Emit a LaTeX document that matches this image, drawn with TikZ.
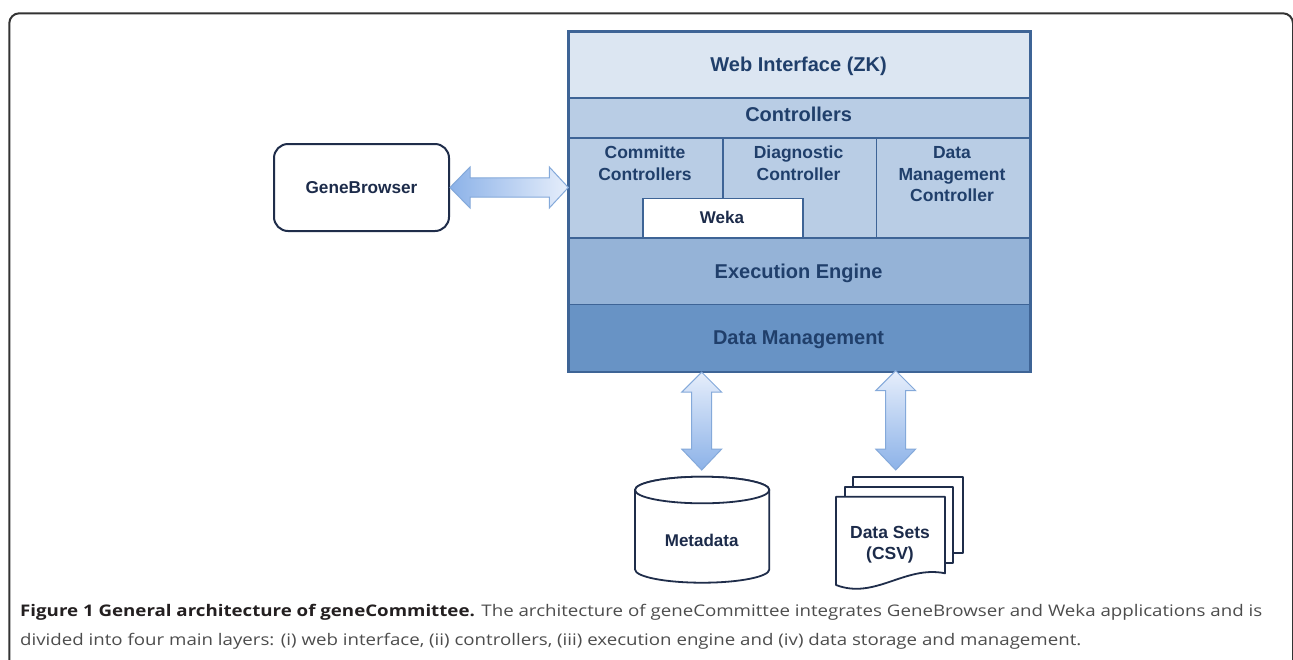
\documentclass[tikz,border=0pt]{standalone}
\usepackage{fontspec}
\usepackage{graphicx}
\setmainfont{Liberation Sans}
\newfontfamily\capfont{Open Sans}
\usetikzlibrary{calc}
\definecolor{webfill}{HTML}{DCE6F2}
\definecolor{ctrlfill}{HTML}{B9CDE5}
\definecolor{execfill}{HTML}{95B3D7}
\definecolor{dmfill}{HTML}{6893C5}
\definecolor{bordercol}{HTML}{3E6496}
\definecolor{navytext}{HTML}{203F6B}
\definecolor{darktext}{HTML}{1C2B4A}
\definecolor{docline}{HTML}{1F2D4A}
\definecolor{arrdark}{HTML}{8CB2E8}
\definecolor{arrlight}{HTML}{E6EEFB}
\definecolor{arrline}{HTML}{84A9DA}
\definecolor{framecol}{HTML}{333333}
\definecolor{capbold}{HTML}{231F20}
\definecolor{captext}{HTML}{4D4D4D}
\newcommand\hdblarrow[2]{%
  \shadedraw[arrowbody, left color=arrdark, right color=arrlight]
    let \p1=(#1), \p2=(#2) in
    (\x1,\y1) -- (\x1+20pt,\y1+20.5pt) -- (\x1+20pt,\y1+9.7pt) -- (\x2-19pt,\y1+9.7pt)
    -- (\x2-19pt,\y1+20.5pt) -- (\x2,\y1) -- (\x2-19pt,\y1-20.5pt) -- (\x2-19pt,\y1-9.7pt)
    -- (\x1+20pt,\y1-9.7pt) -- (\x1+20pt,\y1-20.5pt) -- cycle;}
\newcommand\vdblarrow[2]{%
  \shadedraw[arrowbody, top color=arrlight, bottom color=arrdark]
    let \p1=(#1), \p2=(#2) in
    (\x1,\y1) -- (\x1+20pt,\y1-20pt) -- (\x1+10pt,\y1-20pt) -- (\x1+10pt,\y2+21pt)
    -- (\x1+20pt,\y2+21pt) -- (\x1,\y2) -- (\x1-20pt,\y2+21pt) -- (\x1-10pt,\y2+21pt)
    -- (\x1-10pt,\y1-20pt) -- (\x1-20pt,\y1-20pt) -- cycle;}
\tikzset{
  layer/.style={draw=bordercol, line width=1.5pt, inner sep=0pt, anchor=north west},
  bigtxt/.style={inner sep=0pt, anchor=base, text=navytext, font=\bfseries\fontsize{20}{24}\selectfont},
  coltxt/.style={inner sep=0pt, anchor=base, text=navytext, font=\bfseries\fontsize{17.5}{21}\selectfont},
  doctxt/.style={inner sep=0pt, anchor=base, text=darktext, font=\bfseries\fontsize{17.5}{21}\selectfont},
  arrowbody/.style={draw=arrline, line width=1pt, line join=miter},
  docshape/.style={draw=docline, line width=1.8pt, fill=white, line join=round},
  frame/.style={draw=framecol, line width=2pt, rounded corners=10pt},
  captxt/.style={inner sep=0pt, anchor=base west}
}
\begin{document}
\begin{tikzpicture}[x=1pt,y=-1pt]
\useasboundingbox (0,0) rectangle (1293,659);
\fill[white] (0,0) rectangle (1293,659);
\draw[frame] (9.3,13.3) rectangle (1293,740);

% layered stack
\node[layer, fill=webfill, minimum width=460.7pt, minimum height=66.3pt] (web) at (568.3,31) {};
\node[layer, fill=ctrlfill, minimum width=460.7pt, minimum height=39.7pt] (ctrl) at (568.3,97.3) {};
\node[layer, fill=ctrlfill, minimum width=153.7pt, minimum height=100pt] (col1) at (568.3,137) {};
\node[layer, fill=ctrlfill, minimum width=153.5pt, minimum height=100pt] (col2) at (722,137) {};
\node[layer, fill=ctrlfill, minimum width=153.5pt, minimum height=100pt] (col3) at (875.5,137) {};
\node[layer, fill=white, minimum width=160pt, minimum height=39.3pt] (weka) at (642,197.7) {};
\node[layer, fill=execfill, minimum width=460.7pt, minimum height=66.7pt] (exec) at (568.3,237) {};
\node[layer, fill=dmfill, minimum width=460.7pt, minimum height=67pt] (dm) at (568.3,303.7) {};
\draw[draw=bordercol, line width=2.5pt] (web.north west) rectangle (dm.south east);

\node[bigtxt] (tweb) at (798.6,71.2) {Web Interface (ZK)};
\node[bigtxt] (tctrl) at (798.6,121.2) {Controllers};
\node[coltxt] (c1a) at (645,158.3) {Committe};
\node[coltxt] (c1b) at (645,180) {Controllers};
\node[coltxt] (c2a) at (798.5,158.3) {Diagnostic};
\node[coltxt] (c2b) at (798.5,180) {Controller};
\node[coltxt] (c3a) at (952,158.3) {Data};
\node[coltxt] (c3b) at (952,180) {Management};
\node[coltxt] (c3c) at (952,201.3) {Controller};
\node[inner sep=0pt, anchor=base, text=darktext, font=\bfseries\fontsize{17}{20}\selectfont] (tweka) at (722,223.1) {Weka};
\node[bigtxt] (texec) at (798.6,278.2) {Execution Engine};
\node[bigtxt] (tdm) at (798.6,344.2) {Data Management};

% GeneBrowser
\node[draw=docline, line width=2pt, rounded corners=14pt, minimum width=175pt, minimum height=87pt,
      inner sep=0pt, text=darktext, font=\bfseries\fontsize{17.2}{20}\selectfont] (gb) at (361.5,187.5) {GeneBrowser};
\hdblarrow{gb.east}{col1.west |- gb.east}

% Metadata cylinder
\draw[docshape] (635,490) -- (635,569.4) arc[start angle=180, end angle=360, x radius=67.15pt, y radius=13.3pt]
  -- (769.3,490) arc[start angle=0, end angle=180, x radius=67.15pt, y radius=13.3pt] -- cycle;
\draw[docshape] (702.15,490) ellipse[x radius=67.15pt, y radius=13.3pt];
\node[doctxt, font=\bfseries\fontsize{17}{20}\selectfont] (meta) at (701.7,546.1) {Metadata};

% Data sets documents
\draw[docshape] (853.3,476.7) rectangle (962.7,552.7);
\draw[docshape] (845,486.7) rectangle (953.3,562.7);
\draw[docshape] (836,496.7) -- (945,496.7) -- (945,573.3)
  .. controls (905,565) and (875,600) .. (836,585) -- cycle;
\node[doctxt] (ds1) at (890,538) {Data Sets};
\node[doctxt] (ds2) at (890,559.3) {(CSV)};

% vertical arrows
\coordinate (a1top) at (dm.south -| meta);
\coordinate (a1bot) at (701.7,470);
\coordinate (a2top) at (895.7,370.7);
\coordinate (a2bot) at (895.7,470);
\vdblarrow{a1top}{a1bot}
\vdblarrow{a2top}{a2bot}

% caption
\node[captxt] (cap1) at (20,616.3) {\resizebox{1242pt}{\height}{\capfont\fontsize{16}{19}\selectfont\textcolor{capbold}{\bfseries Figure 1 General architecture of geneCommittee.} \textcolor{captext}{The architecture of geneCommittee integrates GeneBrowser and Weka applications and is}}};
\node[captxt] (cap2) at (20,645.7) {\resizebox{1061pt}{\height}{\capfont\fontsize{16}{19}\selectfont\textcolor{captext}{divided into four main layers: (i) web interface, (ii) controllers, (iii) execution engine and (iv) data storage and management.}}};
\end{tikzpicture}
\end{document}
